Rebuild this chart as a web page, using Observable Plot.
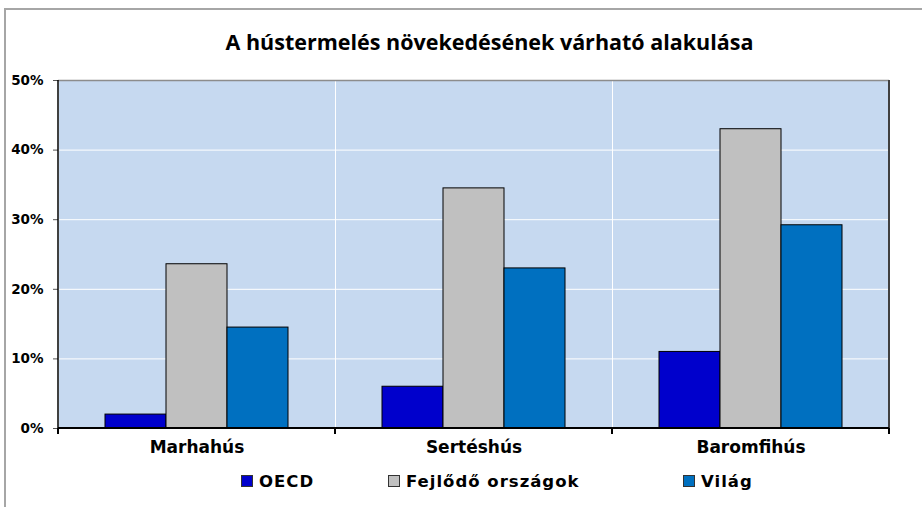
<!DOCTYPE html>
<html><head><meta charset="utf-8">
<script src="https://cdn.jsdelivr.net/npm/d3@7"></script>
<script src="https://cdn.jsdelivr.net/npm/@observablehq/plot@0.6"></script>
<style>
body{margin:0;background:#fff;}
#wrap{position:relative;width:922px;height:507px;overflow:hidden;background:#fff;}
#border{position:absolute;left:4px;top:8px;width:940px;height:520px;border-left:2px solid #a6a6a6;border-top:2px solid #a6a6a6;}
#title{position:absolute;top:27px;left:0;width:979px;text-align:center;font-family:"Open Sans";font-weight:bold;font-size:21.5px;color:#000;white-space:nowrap;}
#chart{position:absolute;left:0;top:60px;}
#legend{position:absolute;top:470px;left:0;width:922px;height:22px;font-family:"DejaVu Sans";font-weight:bold;font-size:16.5px;letter-spacing:1px;color:#000;}
.item{position:absolute;top:0;display:flex;align-items:center;height:22px;white-space:nowrap;}
.sw{width:10px;height:10px;border:1px solid #333;margin-right:6px;}
</style>
</head><body>
<div id="wrap">
<div id="border"></div>
<div id="title">A hústermelés növekedésének várható alakulása</div>
<div id="chart"></div>
<div id="legend"></div>
</div>
<script>
const categories = ["Marhahús", "Sertéshús", "Baromfihús"];
const series = ["OECD", "Fejlődő országok", "Világ"];
const oecd = [0.020, 0.060, 0.110];
const fejlodo = [0.236, 0.345, 0.430];
const vilag = [0.145, 0.230, 0.292];
const yTicks = [0, 0.1, 0.2, 0.3, 0.4, 0.5];
const colors = ["#0000CC", "#C0C0C0", "#0070C0"];
const legendLeft = [241, 388, 683];

const values = [oecd, fejlodo, vilag];
const data = categories.flatMap((c, i) => series.map((s, j) => ({category: c, series: s, value: values[j][i]})));

const plot = Plot.plot({
  width: 922, height: 408,
  marginLeft: 58, marginRight: 33, marginTop: 20, marginBottom: 40,
  style: {fontFamily: "DejaVu Sans", fontWeight: "bold", fontSize: "12px", color: "#000", background: "transparent"},
  fx: {domain: categories, padding: 0, label: null, axis: null},
  x: {domain: series, paddingInner: 0, paddingOuter: 0.745, axis: null},
  y: {domain: [0, 0.5], axis: null},
  color: {domain: series, range: colors},
  marks: [
    Plot.frame({fill: "#C6D9F0", stroke: "white", strokeWidth: 1}),
    Plot.ruleY(yTicks.slice(1, -1), {stroke: "white", strokeWidth: 1}),
    Plot.ruleY([0.5], {stroke: "#8c8c8c", strokeWidth: 1.5}),
    Plot.barY(data, {fx: "category", x: "series", y: "value", fill: "series", stroke: "#000", strokeWidth: 1}),
    Plot.axisY({ticks: yTicks, tickFormat: d3.format(".0%"), tickSize: 5, tickPadding: 10, fontSize: 13.5, label: null, stroke: "#555"}),
    Plot.axisFx({anchor: "bottom", tickSize: 0, tickPadding: 12, fontSize: 17, label: null})
  ]
});
document.getElementById("chart").appendChild(plot);

// axis lines and category-boundary ticks derived from the scales
const fx = plot.scale("fx"), y = plot.scale("y");
const svg = d3.select(plot);
const xs = categories.map(c => fx.apply(c));
const xEnd = fx.apply(categories[categories.length - 1]) + fx.bandwidth;
const y0 = y.apply(0), yTop = y.apply(0.5);
const g = svg.append("g");
g.append("line").attr("x1", xs[0]).attr("x2", xs[0]).attr("y1", yTop).attr("y2", y0).attr("stroke", "#000").attr("stroke-width", 1.5);
g.append("line").attr("x1", xEnd).attr("x2", xEnd).attr("y1", yTop).attr("y2", y0).attr("stroke", "#404040").attr("stroke-width", 2);
g.append("line").attr("x1", xs[0]).attr("x2", xEnd).attr("y1", y0).attr("y2", y0).attr("stroke", "#000").attr("stroke-width", 2);
[...xs, xEnd].forEach(x => g.append("line").attr("x1", x).attr("x2", x).attr("y1", y0).attr("y2", y0 + 6).attr("stroke", "#000").attr("stroke-width", 2));

const legend = d3.select("#legend");
series.forEach((s, i) => {
  const it = legend.append("div").attr("class", "item").style("left", legendLeft[i] + "px");
  it.append("div").attr("class", "sw").style("background", colors[i]);
  it.append("span").text(s);
});
</script>
</body></html>
